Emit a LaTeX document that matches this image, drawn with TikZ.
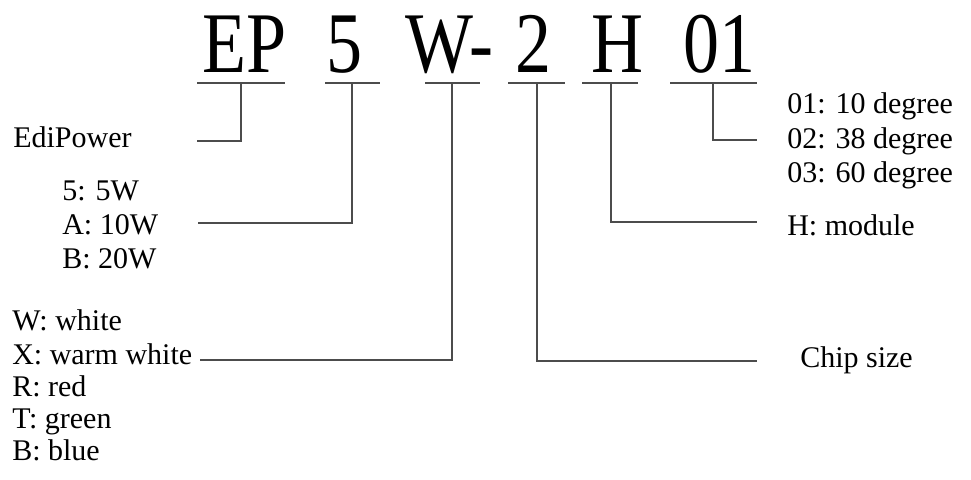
\documentclass[tikz,border=0pt]{standalone}
\usepackage{fontspec}
\setmainfont{Liberation Serif}

\tikzset{
  code/.style={inner sep=0pt, anchor=base west, font=\fontsize{54}{60}\selectfont},
  note/.style={inner sep=0pt, anchor=base west, font=\fontsize{22.5}{27}\selectfont},
  lead/.style={draw=black!70, line width=0.8pt},
}
\newcommand{\tallch}[1]{\scalebox{1}[1.2]{#1}}

\begin{document}
\begin{tikzpicture}[x=0.75pt,y=-0.75pt]
  \useasboundingbox (0,0) rectangle (971,479);
  % the code
  \node[code] (ep)   at (202,72) {\tallch{EP}};
  \node[code] (pw)   at (326,72) {\tallch{5}};
  \node[code] (col)  at (405,72) {\tallch{W-}};
  \node[code] (chip) at (515,72) {\tallch{2}};
  \node[code] (mod)  at (591,72) {\tallch{H}};
  \node[code] (ang)  at (683,72) {\tallch{01}};
  % underlines, with the tick points
  \foreach \a/\b/\k/\n in {197/285/241/1, 325/380/352/2, 425/480/452/3,
                          508/565/537/4, 582/638/611/5, 670/757/713/6} {
    \draw[lead] (\a,83) -- (\b,83);
    \coordinate (k\n) at (\k,83);
  }
  % leaders
  \foreach \n/\x/\y in {1/197/141, 2/198/223, 3/200/360,
                        4/757/361, 5/757/222, 6/757/140} {
    \coordinate (e\n) at (\x,\y);
    \draw[lead] (k\n) |- (e\n);
  }
  % left notes
  \node[note] (edi) at (13,147) {EdiPower};
  \node[note] (p5) at (62,200) {5: 5W};
  \node[note] (pa) at (62,234) {A: 10W};
  \node[note] (pb) at (62,268) {B: 20W};
  \node[note] (cw) at (12,330) {W: white};
  \node[note] (cx) at (12,364) {X: warm white};
  \node[note] (cr) at (12,396) {R: red};
  \node[note] (ct) at (12,428) {T: green};
  \node[note] (cb) at (12,460) {B: blue};
  % right notes
  \node[note] (a1) at (787,113) {01: 10 degree};
  \node[note] (a2) at (787,148) {02: 38 degree};
  \node[note] (a3) at (787,182) {03: 60 degree};
  \node[note] (hm) at (787,235) {H: module};
  \node[note] (cs) at (800,367) {Chip size};
\end{tikzpicture}
\end{document}
